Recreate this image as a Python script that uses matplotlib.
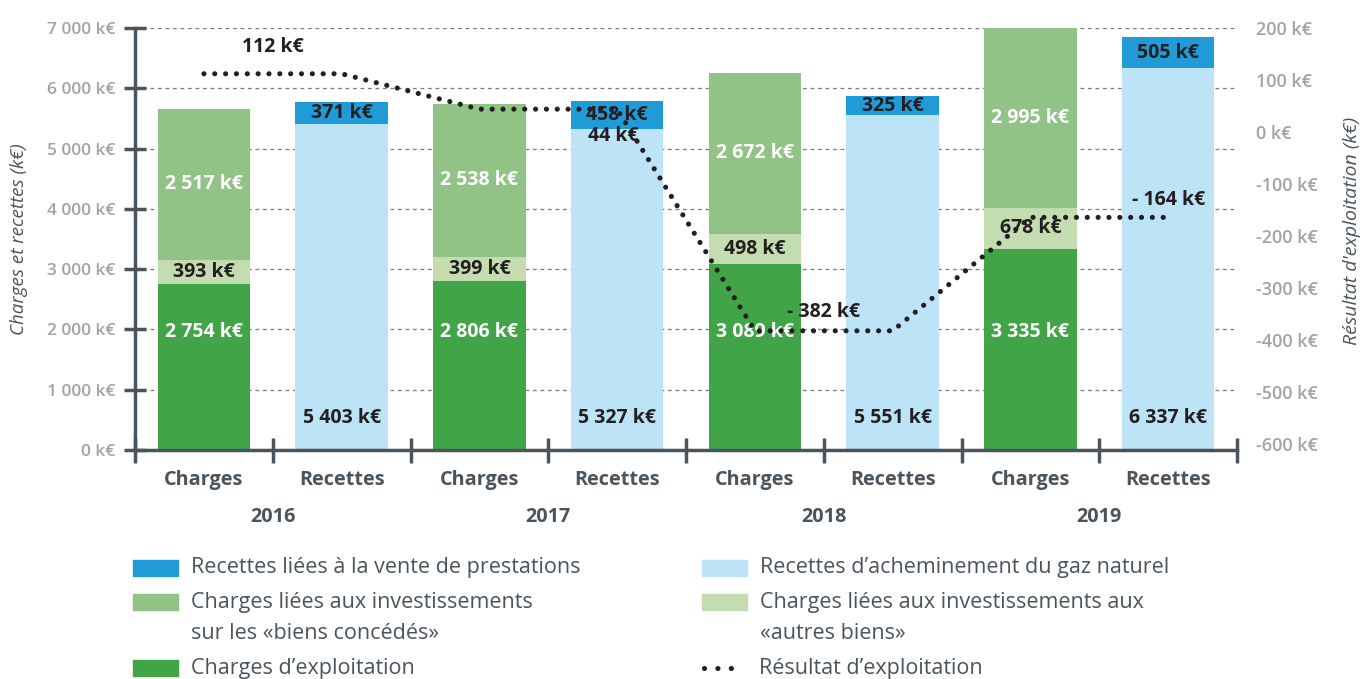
import numpy as np
import matplotlib.pyplot as plt
from matplotlib.patches import Rectangle
from matplotlib.lines import Line2D

plt.rcParams['font.family'] = ['Open Sans', 'DejaVu Sans']

# données (k€)
annees = ['2016', '2017', '2018', '2019']
categories = ['Charges', 'Recettes']
charges_exploitation = [2754, 2806, 3089, 3335]
charges_autres_biens = [393, 399, 498, 678]
charges_biens_concedes = [2517, 2538, 2672, 2995]
recettes_gaz = [5403, 5327, 5551, 6337]
recettes_prestations = [371, 458, 325, 505]
resultat = [112, 44, -382, -164]

# couleurs
c_expl = '#41a447'
c_autres = '#c3ddb0'
c_conc = '#91c386'
c_gaz = '#bde3f7'
c_prest = '#219bd8'
c_axe = '#4a545c'
c_tick = '#a3a3a3'
c_txt = '#231f20'

def fmt(v):
    s = '{:,}'.format(abs(v)).replace(',', ' ')
    return ('- ' if v < 0 else '') + s + ' k€'

fig = plt.figure(figsize=(13.61, 6.79), dpi=100)
ax = fig.add_axes([0.0992, 0.3373, 0.8097, 0.6215])
ax2 = ax.twinx()

n = len(annees)
xc = np.arange(n) * 2          # position des barres Charges
xr = xc + 1                    # position des barres Recettes
w = 0.67

ax.set_axisbelow(True)
ax.yaxis.grid(True, linestyle=(0, (3, 3)), color='#7a7a7a', linewidth=0.9)

ce = np.array(charges_exploitation)
ca = np.array(charges_autres_biens)
cc = np.array(charges_biens_concedes)
rg = np.array(recettes_gaz)
rp = np.array(recettes_prestations)

ax.bar(xc, ce, w, color=c_expl, zorder=2)
ax.bar(xc, ca, w, bottom=ce, color=c_autres, zorder=2)
ax.bar(xc, cc, w, bottom=ce + ca, color=c_conc, zorder=2)
ax.bar(xr, rg, w, color=c_gaz, zorder=2)
ax.bar(xr, rp, w, bottom=rg, color=c_prest, zorder=2)

lab = dict(ha='center', va='center', fontsize=14, fontweight='bold', zorder=5)
for i in range(n):
    ax.text(xc[i], 1950, fmt(ce[i]), color='white', **lab)
    ax.text(xc[i], ce[i] + ca[i] / 2, fmt(ca[i]), color=c_txt, **lab)
    ax.text(xc[i], ce[i] + ca[i] + cc[i] / 2, fmt(cc[i]), color='white', **lab)
    ax.text(xr[i], 530, fmt(rg[i]), color=c_txt, **lab)
    ax.text(xr[i], rg[i] + rp[i] / 2, fmt(rp[i]), color=c_txt, **lab)

ax.set_xlim(-0.5, 2 * n - 0.5)
ax.set_ylim(0, 7000)
ax.set_yticks(np.arange(0, 7001, 1000))
ax.set_yticklabels([fmt(v) for v in range(0, 7001, 1000)])
ax.tick_params(axis='y', direction='inout', length=16, width=2.5, color=c_axe,
               labelcolor=c_tick, labelsize=12.5, pad=6)
for t in ax.get_yticklabels():
    t.set_fontweight('semibold')

ax.set_xticks(np.arange(-0.5, 2 * n, 1.0))
ax.set_xticklabels([])
ax.tick_params(axis='x', direction='inout', length=18, width=2.5, color=c_axe)
for i in range(n):
    for j, x in enumerate([xc[i], xr[i]]):
        ax.text(x, -500, categories[j], ha='center', va='center', fontsize=14.3,
                fontweight='bold', color=c_axe)
    ax.text(xc[i] + 0.5, -1120, annees[i], ha='center', va='center', fontsize=14.3,
            fontweight='bold', color=c_axe)

for s in ['top', 'right']:
    ax.spines[s].set_visible(False)
ax.spines['left'].set_color(c_axe)
ax.spines['left'].set_linewidth(2.5)
ax.spines['bottom'].set_color(c_axe)
ax.spines['bottom'].set_linewidth(2.5)

ax.set_ylabel('Charges et recettes (k€)', fontsize=13.5, style='italic', color=c_axe)
ax.yaxis.set_label_coords(-0.097, 0.5)

# résultat d'exploitation sur l'axe de droite
ax2.set_ylim(-611, 185)
ax2.set_yticks(np.arange(-600, 201, 100))
ax2.set_yticklabels(['{} k€'.format(v) for v in range(-600, 201, 100)])
ax2.tick_params(axis='y', length=0, labelcolor=c_tick, labelsize=13, pad=14)
for t in ax2.get_yticklabels():
    t.set_fontweight('semibold')
for s in ax2.spines.values():
    s.set_visible(False)
ax2.set_ylabel("Résultat d'exploitation (k€)", fontsize=14, style='italic',
               color=c_axe)
ax2.yaxis.set_label_coords(1.096, 0.52)

xs = np.ravel(np.column_stack([xc, xr]))
ys = np.repeat(resultat, 2)
ax2.plot(xs, ys, color=c_txt, linewidth=3.7, linestyle=(0, (0.01, 2.1)),
         dash_capstyle='round', zorder=4)
ax2.set_xlim(ax.get_xlim())

res_lab = dict(fontsize=14, fontweight='bold', color=c_txt, zorder=6)
ax2.annotate(fmt(resultat[0]), (xc[0] + 0.5, resultat[0]), xytext=(0, 12),
             textcoords='offset points', ha='center', va='bottom', **res_lab)
ax2.annotate(fmt(resultat[1]), (xr[1], resultat[1]), xytext=(-3, -12),
             textcoords='offset points', ha='center', va='top', **res_lab)
ax2.annotate(fmt(resultat[2]), (xc[2] + 0.5, resultat[2]), xytext=(0, 6),
             textcoords='offset points', ha='center', va='bottom', **res_lab)
ax2.annotate(fmt(resultat[3]), (xr[3], resultat[3]), xytext=(0, 5),
             textcoords='offset points', ha='center', va='bottom', **res_lab)

# légende
col_g, col_d = 0.0977, 0.5155
rangs = [0.1635, 0.1134, 0.0663, 0.0162]
leg_patches = [
    (col_g, rangs[0], c_prest, ['Recettes liées à la vente de prestations']),
    (col_g, rangs[1], c_conc, ['Charges liées aux investissements',
                               'sur les «biens concédés»']),
    (col_g, rangs[3], c_expl, ["Charges d’exploitation"]),
    (col_d, rangs[0], c_gaz, ["Recettes d’acheminement du gaz naturel"]),
    (col_d, rangs[1], c_autres, ['Charges liées aux investissements aux',
                                 '«autres biens»']),
]
for x, y, col, lignes in leg_patches:
    fig.patches.append(Rectangle((x, y - 0.012), 0.033, 0.024, transform=fig.transFigure,
                                 color=col, figure=fig))
    for k, txt in enumerate(lignes):
        fig.text(x + 0.043, rangs[rangs.index(y) + k], txt, fontsize=15.5, color=c_axe,
                 va='center')
fig.lines.append(Line2D([col_d + 0.002, col_d + 0.031], [rangs[3], rangs[3]],
                        transform=fig.transFigure, color=c_txt, linewidth=3.7,
                        linestyle=(0, (0.01, 2.6)), dash_capstyle='round', figure=fig))
fig.text(col_d + 0.042, rangs[3], "Résultat d’exploitation", fontsize=15.5, color=c_axe,
         va='center')

fig.savefig('out.png', dpi=100)
